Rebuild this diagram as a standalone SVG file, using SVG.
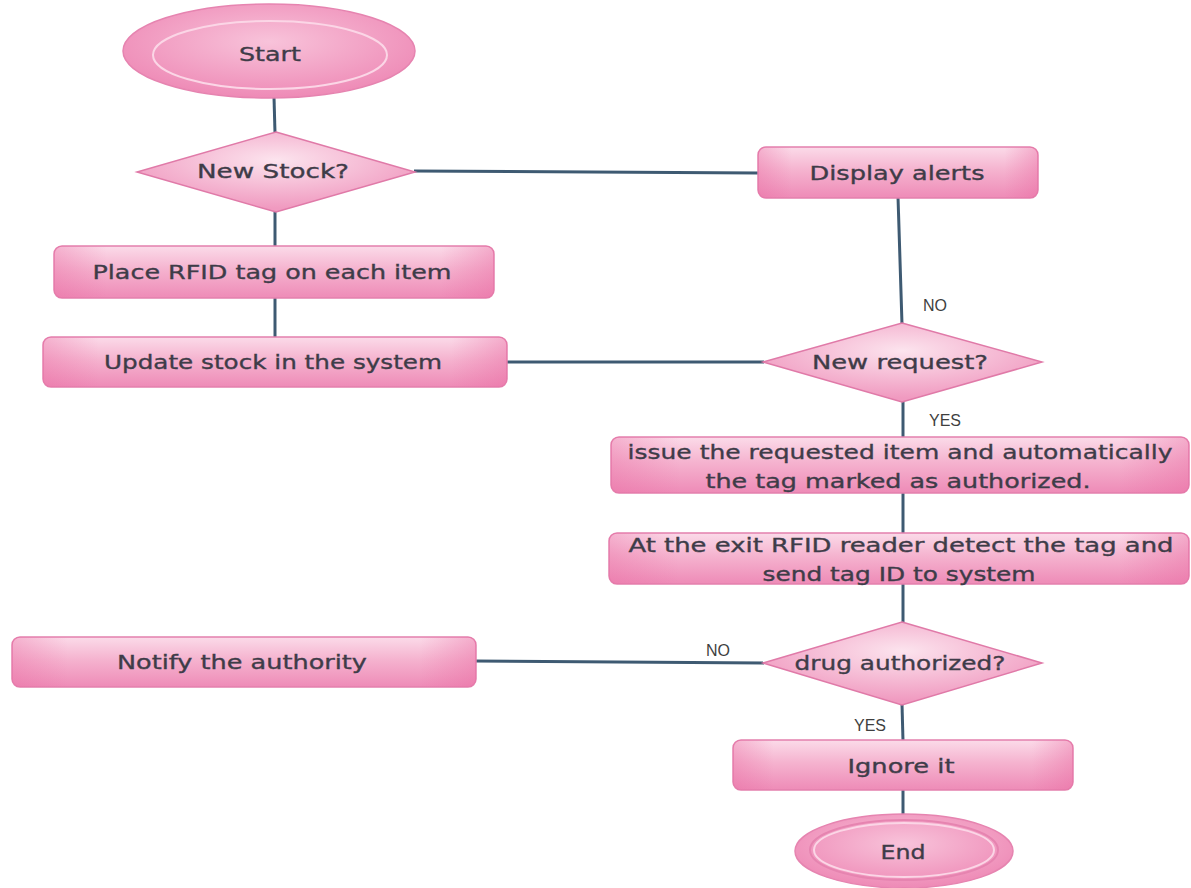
<svg xmlns="http://www.w3.org/2000/svg" width="1191" height="888" viewBox="0 0 1191 888">
<defs>
<linearGradient id="gv" x1="0" y1="0" x2="0" y2="1">
<stop offset="0" stop-color="#fbdbe9"/>
<stop offset="0.45" stop-color="#f5b3cf"/>
<stop offset="1" stop-color="#ee8bb7"/>
</linearGradient>
<linearGradient id="gh" x1="0" y1="0" x2="1" y2="0">
<stop offset="0" stop-color="#e9679f" stop-opacity="0.35"/>
<stop offset="0.12" stop-color="#e9679f" stop-opacity="0"/>
<stop offset="0.88" stop-color="#e9679f" stop-opacity="0"/>
<stop offset="1" stop-color="#e9679f" stop-opacity="0.4"/>
</linearGradient>
<radialGradient id="ge" cx="0.5" cy="0.4" r="0.6">
<stop offset="0" stop-color="#f8c3da"/>
<stop offset="1" stop-color="#ee8ab6"/>
</radialGradient>
<radialGradient id="gd" cx="0.5" cy="0.35" r="0.6">
<stop offset="0" stop-color="#fce4ee"/>
<stop offset="1" stop-color="#f09ac0"/>
</radialGradient>
</defs>
<style>
.box{fill:url(#gv);stroke:#e480ad;stroke-width:1.5}
.ov{fill:url(#gh);stroke:none}
.dia{fill:url(#gd);stroke:#e07aa8;stroke-width:1.5}
.ell{fill:url(#ge);stroke:#e684b0;stroke-width:1.5}
.inner{fill:none;stroke:#fbd6e6;stroke-width:2}
.t{font-family:"DejaVu Sans","Liberation Sans",sans-serif;font-size:20px;fill:#3e3c48;stroke:#3e3c48;stroke-width:0.35;text-anchor:middle;dominant-baseline:central}
.lbl{font-family:"Liberation Sans",Arial,sans-serif;font-size:16px;fill:#3f3f3f;text-anchor:middle;dominant-baseline:central}
.c{fill:none;stroke:#3e5a72;stroke-width:3}
</style>
<rect width="1191" height="888" fill="#ffffff"/>
<g id="connectors">
<line class="c" x1="274" y1="97" x2="275" y2="133"/>
<line class="c" x1="414" y1="171" x2="758" y2="173"/>
<line class="c" x1="275" y1="211" x2="275" y2="247"/>
<line class="c" x1="275" y1="297" x2="275" y2="338"/>
<line class="c" x1="898" y1="197" x2="902" y2="324"/>
<line class="c" x1="506" y1="362" x2="764" y2="362"/>
<line class="c" x1="903" y1="401" x2="903" y2="438"/>
<line class="c" x1="903" y1="493" x2="903" y2="534"/>
<line class="c" x1="903" y1="584" x2="903" y2="624"/>
<line class="c" x1="475" y1="661" x2="764" y2="663"/>
<line class="c" x1="902" y1="704" x2="903" y2="741"/>
<line class="c" x1="903" y1="790" x2="903" y2="816"/>
</g>
<g id="labels">
<text class="lbl" x="935" y="305">NO</text>
<text class="lbl" x="945" y="420">YES</text>
<text class="lbl" x="718" y="650">NO</text>
<text class="lbl" x="870" y="725">YES</text>
</g>
<g id="start">
<ellipse class="ell" cx="269" cy="51" rx="146" ry="47"/>
<ellipse class="inner" cx="270" cy="55" rx="117" ry="34"/>
<text class="t" x="270" y="54" textLength="62" lengthAdjust="spacingAndGlyphs">Start</text>
</g>
<g id="newstock">
<polygon class="dia" points="276,132 415,172 276,212 137,172"/>
<text class="t" x="273" y="171" textLength="152" lengthAdjust="spacingAndGlyphs">New Stock?</text>
</g>
<g id="display">
<rect class="box" x="758" y="147" width="280" height="51" rx="8"/>
<rect class="ov" x="758" y="147" width="280" height="51" rx="8"/>
<text class="t" x="897" y="173" textLength="175" lengthAdjust="spacingAndGlyphs">Display alerts</text>
</g>
<g id="place">
<rect class="box" x="54" y="246" width="440" height="52" rx="8"/>
<rect class="ov" x="54" y="246" width="440" height="52" rx="8"/>
<text class="t" x="272" y="272" textLength="359" lengthAdjust="spacingAndGlyphs">Place RFID tag on each item</text>
</g>
<g id="update">
<rect class="box" x="43" y="337" width="464" height="50" rx="8"/>
<rect class="ov" x="43" y="337" width="464" height="50" rx="8"/>
<text class="t" x="273" y="362" textLength="338" lengthAdjust="spacingAndGlyphs">Update stock in the system</text>
</g>
<g id="newrequest">
<polygon class="dia" points="902,323 1042,362 902,402 763,362"/>
<text class="t" x="900" y="362" textLength="176" lengthAdjust="spacingAndGlyphs">New request?</text>
</g>
<g id="issue">
<rect class="box" x="611" y="437" width="578" height="56" rx="8"/>
<rect class="ov" x="611" y="437" width="578" height="56" rx="8"/>
<text class="t" x="900" y="452" textLength="545" lengthAdjust="spacingAndGlyphs">issue the requested item and automatically</text>
<text class="t" x="898" y="481" textLength="385" lengthAdjust="spacingAndGlyphs">the tag marked as authorized.</text>
</g>
<g id="exit">
<rect class="box" x="609" y="533" width="580" height="51" rx="8"/>
<rect class="ov" x="609" y="533" width="580" height="51" rx="8"/>
<text class="t" x="901" y="545" textLength="545" lengthAdjust="spacingAndGlyphs">At the exit RFID reader detect the tag and</text>
<text class="t" x="899" y="574" textLength="273" lengthAdjust="spacingAndGlyphs">send tag ID to system</text>
</g>
<g id="notify">
<rect class="box" x="12" y="637" width="464" height="50" rx="8"/>
<rect class="ov" x="12" y="637" width="464" height="50" rx="8"/>
<text class="t" x="242" y="662" textLength="250" lengthAdjust="spacingAndGlyphs">Notify the authority</text>
</g>
<g id="drug">
<polygon class="dia" points="902,622 1042,663 902,705 763,663"/>
<text class="t" x="900" y="663" textLength="211" lengthAdjust="spacingAndGlyphs">drug authorized?</text>
</g>
<g id="ignore">
<rect class="box" x="733" y="740" width="340" height="50" rx="8"/>
<rect class="ov" x="733" y="740" width="340" height="50" rx="8"/>
<text class="t" x="901" y="766" textLength="107" lengthAdjust="spacingAndGlyphs">Ignore it</text>
</g>
<g id="end">
<ellipse class="ell" cx="904" cy="851" rx="109" ry="37"/>
<ellipse class="inner" cx="904" cy="850" rx="94" ry="30" style="stroke:#e684b0"/>
<ellipse class="inner" cx="904" cy="850" rx="90" ry="27"/>
<text class="t" x="903" y="852" textLength="45" lengthAdjust="spacingAndGlyphs">End</text>
</g>
</svg>
